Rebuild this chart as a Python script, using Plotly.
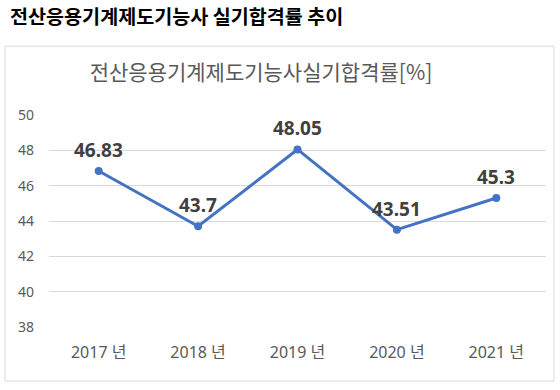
import plotly.graph_objects as go

years = ["2017 년", "2018 년", "2019 년", "2020 년", "2021 년"]
rates = [46.83, 43.7, 48.05, 43.51, 45.3]
rate_labels = ["46.83", "43.7", "48.05", "43.51", "45.3"]
y_ticks = [38, 40, 42, 44, 46, 48, 50]

page_title = "전산응용기계제도기능사 실기합격률 추이"
chart_title = "전산응용기계제도기능사실기합격률[%]"

FONT = "Noto Sans, Noto Sans CJK KR, sans-serif"
KFONT = "Noto Sans CJK KR, Noto Sans, sans-serif"

fig = go.Figure()
fig.add_trace(go.Scatter(
    x=years, y=rates, mode="lines+markers",
    line=dict(color="#4472C4", width=3),
    marker=dict(color="#4472C4", size=8),
    hoverinfo="skip", showlegend=False,
))

for xv, yv, t in zip(years, rates, rate_labels):
    fig.add_annotation(x=xv, y=yv, text="<b>%s</b>" % t, showarrow=False,
                       yshift=21, font=dict(family=FONT, size=19, color="#404040"))

# chart border box
fig.add_shape(type="rect", xref="paper", yref="paper",
              x0=-0.0885, x1=1.016, y0=-0.255, y1=1.325,
              line=dict(color="#d9d9d9", width=1), fillcolor="rgba(0,0,0,0)", layer="below")

# page title
fig.add_annotation(xref="paper", yref="paper", x=-0.0825, y=1.467,
                   xanchor="left", yanchor="middle", showarrow=False,
                   text="<b>%s</b>" % page_title,
                   font=dict(family=KFONT, size=19.6, color="#000000"))

fig.update_layout(
    width=560, height=390,
    margin=dict(l=49, r=14, t=115, b=63),
    paper_bgcolor="white", plot_bgcolor="white",
    title=dict(text=chart_title, x=261/560, y=1-73/390, xanchor="center", yanchor="middle",
               xref="container", yref="container",
               font=dict(family=KFONT, size=21, color="#595959")),
    font=dict(family=FONT, color="#595959"),
)
fig.update_xaxes(range=[-0.5, 4.5], showgrid=False, showline=False, zeroline=False,
                 tickfont=dict(family=FONT, size=16, color="#595959"),
                 ticklabelstandoff=14)
fig.update_yaxes(range=[38, 50], tickvals=y_ticks, showgrid=True, gridcolor="#d9d9d9",
                 gridwidth=1, zeroline=False, showline=False,
                 tickfont=dict(family=FONT, size=14, color="#595959"),
                 ticklabelstandoff=14)

fig.write_html("out.html", config={"displayModeBar": False},
               post_script="document.body.style.margin='0';")
